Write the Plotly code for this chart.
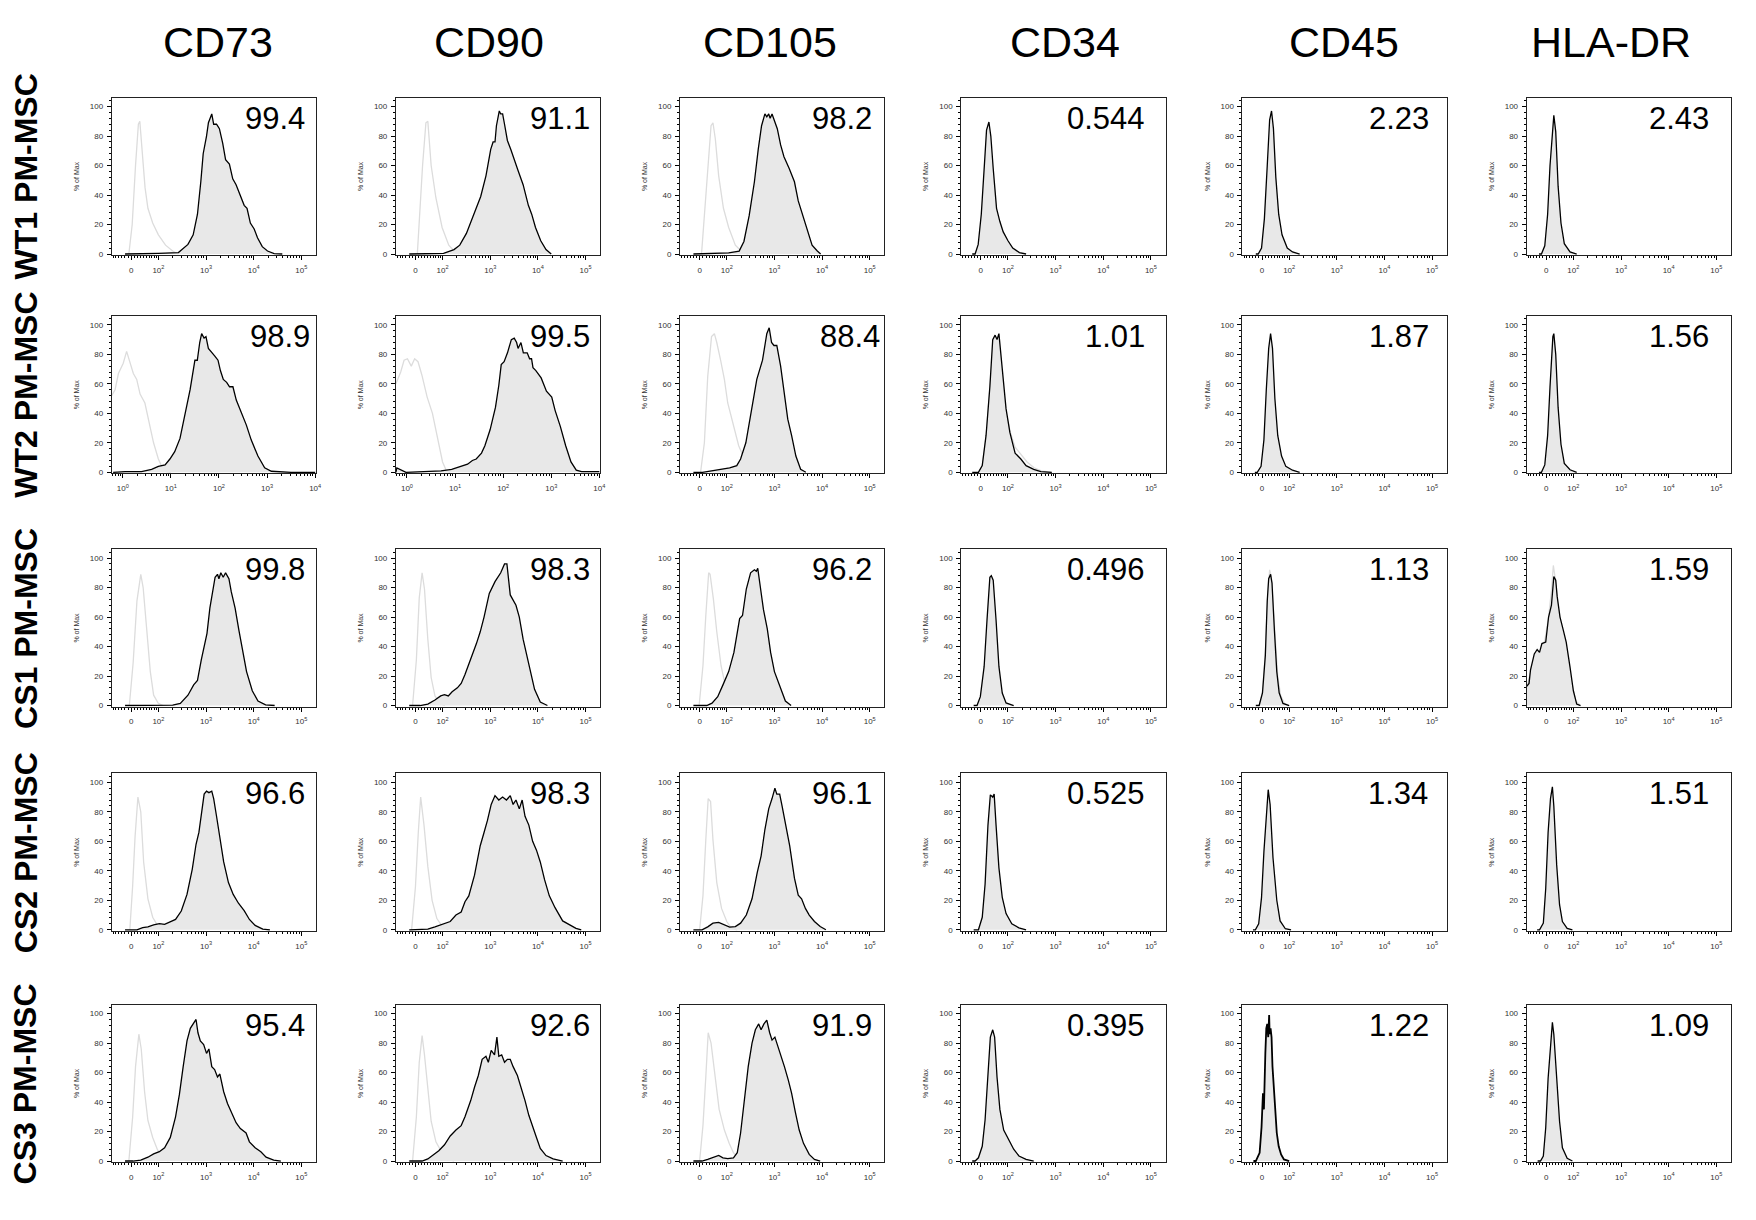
import math
import plotly.graph_objects as go

# ---------------- labels ----------------
columns = ["CD73", "CD90", "CD105", "CD34", "CD45", "HLA-DR"]
rows = ["WT1 PM-MSC", "WT2 PM-MSC", "CS1 PM-MSC", "CS2 PM-MSC", "CS3 PM-MSC"]
percent_labels = [
    ["99.4", "91.1", "98.2", "0.544", "2.23", "2.43"],
    ["98.9", "99.5", "88.4", "1.01", "1.87", "1.56"],
    ["99.8", "98.3", "96.2", "0.496", "1.13", "1.59"],
    ["96.6", "98.3", "96.1", "0.525", "1.34", "1.51"],
    ["95.4", "92.6", "91.9", "0.395", "1.22", "1.09"],
]
logicle_tick_vals = [1.43, 2, 3, 4, 5]
logicle_tick_text = ["0", "10<sup>2</sup>", "10<sup>3</sup>", "10<sup>4</sup>", "10<sup>5</sup>"]
log_tick_vals = [0, 1, 2, 3, 4]
log_tick_text = ["10<sup>0</sup>", "10<sup>1</sup>", "10<sup>2</sup>", "10<sup>3</sup>", "10<sup>4</sup>"]
y_tick_vals = [0, 20, 40, 60, 80, 100]

# ---------------- data (x in decades of the display scale, y in % of max) ----------------
# Row 1 : WT1
wt1_cd73_x = [1.30, 1.90, 2.00, 2.42, 2.62, 2.73, 2.82, 2.89, 2.94, 3.01, 3.05, 3.12, 3.16, 3.22, 3.28, 3.35, 3.41, 3.49, 3.56, 3.63, 3.72, 3.80, 3.86, 3.93, 4.01, 4.08, 4.18, 4.29, 4.43, 4.60]
wt1_cd73_y = [0, 0, 0.5, 1, 6.5, 13, 27, 49, 68, 80, 89, 95, 88, 88, 85, 75, 64, 61, 51, 47, 39, 33, 31, 21, 17, 11, 5, 2, 0.3, 0]
wt1_cd73_iso_x = [1.38, 1.45, 1.52, 1.58, 1.61, 1.65, 1.72, 1.78, 1.88, 2.00, 2.15, 2.30, 2.42]
wt1_cd73_iso_y = [0, 20, 60, 88, 90, 75, 45, 31, 21, 13, 6, 2, 0]
wt1_cd90_x = [1.30, 2.02, 2.24, 2.36, 2.50, 2.69, 2.80, 2.91, 3.01, 3.06, 3.10, 3.13, 3.19, 3.22, 3.26, 3.30, 3.36, 3.43, 3.50, 3.58, 3.69, 3.80, 3.87, 3.95, 4.06, 4.17, 4.28]
wt1_cd90_y = [0, 0.5, 3, 6, 14, 29, 39, 53, 71, 76, 76, 87, 97, 95, 95, 88, 77, 71, 65, 57, 47, 33, 27, 18, 9, 3, 0]
wt1_cd90_iso_x = [1.47, 1.58, 1.65, 1.69, 1.76, 1.86, 1.99, 2.13, 2.24, 2.35]
wt1_cd90_iso_y = [0, 60, 89, 90, 60, 38, 18, 6, 2, 0]
wt1_cd105_x = [1.30, 1.74, 2.04, 2.26, 2.36, 2.47, 2.58, 2.66, 2.73, 2.80, 2.84, 2.88, 2.91, 2.95, 3.00, 3.06, 3.13, 3.20, 3.31, 3.42, 3.50, 3.61, 3.68, 3.79, 3.90, 3.97]
wt1_cd105_y = [0, 0.7, 0.7, 2, 8.5, 26, 49, 71, 87, 95, 93, 95, 92, 95, 91, 85, 74, 66, 58, 49, 36, 25, 18, 6, 2, 0]
wt1_cd105_iso_x = [1.47, 1.60, 1.67, 1.71, 1.76, 1.83, 1.93, 2.04, 2.18, 2.33, 2.45]
wt1_cd105_iso_y = [0, 60, 87, 89, 78, 53, 31, 18, 6, 1, 0]
wt1_cd34_x = [1.25, 1.31, 1.375, 1.44, 1.51, 1.55, 1.60, 1.64, 1.69, 1.76, 1.83, 1.90, 2.00, 2.10, 2.24, 2.38]
wt1_cd34_y = [0, 0, 6.5, 27, 63, 84, 89.5, 80, 58, 31, 22, 15, 9, 4, 1, 0]
wt1_cd45_x = [1.30, 1.35, 1.42, 1.48, 1.54, 1.59, 1.63, 1.67, 1.72, 1.78, 1.85, 1.96, 2.07, 2.22]
wt1_cd45_y = [0, 0, 4, 24, 60, 91, 97, 85, 52, 27, 13, 4, 1.4, 0]
wt1_hla_x = [1.28, 1.33, 1.40, 1.46, 1.51, 1.57, 1.59, 1.63, 1.68, 1.74, 1.81, 1.93, 2.07]
wt1_hla_y = [0, 0, 5.6, 27, 60, 91, 94, 83, 46, 21, 7, 1.4, 0]

# Row 2 : WT2 (CD73 and CD90 on a plain log scale)
wt2_cd73_x = [-0.20, 0.05, 0.39, 0.50, 0.60, 0.74, 0.88, 0.98, 1.08, 1.19, 1.29, 1.40, 1.50, 1.55, 1.60, 1.64, 1.69, 1.73, 1.78, 1.84, 1.91, 1.98, 2.03, 2.09, 2.16, 2.22, 2.29, 2.36, 2.47, 2.57, 2.67, 2.81, 2.95, 3.09, 3.50, 4.00]
wt2_cd73_y = [0, 0.4, 0.4, 1, 2, 4, 5, 9, 14, 23, 38, 56, 76, 76, 88, 94, 91, 92, 84, 82, 79, 76, 69, 63, 61, 58, 58, 49, 40, 32, 22, 11, 3, 0.7, 0, 0]
wt2_cd73_iso_x = [-0.23, -0.16, -0.09, 0.01, 0.08, 0.15, 0.22, 0.29, 0.36, 0.46, 0.53, 0.64, 0.74, 0.81, 0.91, 1.00]
wt2_cd73_iso_y = [52, 56, 67, 74, 82, 74, 67, 63, 53, 47, 36, 20, 9, 4, 0.5, 0]
wt2_cd90_x = [-0.23, -0.21, -0.02, 0.34, 0.71, 0.93, 1.15, 1.26, 1.36, 1.44, 1.55, 1.62, 1.73, 1.84, 1.91, 1.96, 2.02, 2.09, 2.17, 2.23, 2.28, 2.31, 2.37, 2.42, 2.50, 2.55, 2.59, 2.62, 2.68, 2.79, 2.90, 3.01, 3.08, 3.19, 3.30, 3.41, 3.52, 3.63, 3.92, 4.00]
wt2_cd90_y = [0, 3, 0, 0.4, 1, 2, 4, 5.5, 8, 9, 13, 18, 29, 44, 59, 73, 75, 81, 90, 91, 88, 84, 88, 81, 81, 77, 77, 71, 69, 64, 55, 51, 42, 31, 18, 7, 1.5, 0.4, 0.4, 0.4]
wt2_cd90_iso_x = [-0.23, -0.13, -0.06, 0.01, 0.09, 0.16, 0.23, 0.31, 0.42, 0.53, 0.60, 0.67, 0.74, 0.82, 0.90]
wt2_cd90_iso_y = [60, 68, 76, 77, 72, 77, 75, 66, 51, 40, 29, 18, 7, 1, 0]
wt2_cd105_x = [1.30, 1.49, 1.68, 1.91, 2.06, 2.21, 2.29, 2.40, 2.52, 2.63, 2.75, 2.84, 2.89, 2.94, 2.99, 3.05, 3.13, 3.21, 3.28, 3.36, 3.45, 3.55, 3.66]
wt2_cd105_y = [0, 0, 1, 2, 3, 4.5, 9, 20, 43, 63, 76, 94, 98, 88, 86, 86, 72, 54, 36, 25, 11, 2, 0]
wt2_cd105_iso_x = [1.45, 1.53, 1.60, 1.68, 1.74, 1.79, 1.87, 1.95, 2.02, 2.14, 2.25, 2.37, 2.48, 2.60]
wt2_cd105_iso_y = [0, 20, 65, 92, 94, 88, 76, 63, 47, 31, 18, 9, 3, 0.5]
wt2_cd34_x = [1.25, 1.38, 1.46, 1.54, 1.62, 1.68, 1.73, 1.77, 1.81, 1.88, 1.96, 2.04, 2.15, 2.27, 2.38, 2.54, 2.69, 2.92]
wt2_cd34_y = [0, 0, 4.5, 25, 58, 90, 93, 90, 94, 70, 43, 27, 13, 9, 4.5, 2, 0.5, 0]
wt2_cd34_iso_x = [1.38, 1.46, 1.54, 1.62, 1.70, 1.78, 1.86, 1.95, 2.05, 2.15, 2.27, 2.40, 2.55, 2.70, 2.90]
wt2_cd34_iso_y = [0, 4, 24, 56, 90, 86, 62, 42, 27, 17, 12, 7, 3, 1, 0]
wt2_cd45_x = [1.28, 1.33, 1.41, 1.47, 1.52, 1.57, 1.61, 1.65, 1.70, 1.76, 1.84, 1.93, 2.07, 2.22]
wt2_cd45_y = [0, 0, 4, 22, 56, 84, 94, 84, 50, 25, 11, 4, 1.4, 0]
wt2_hla_x = [1.28, 1.33, 1.40, 1.46, 1.51, 1.57, 1.59, 1.63, 1.68, 1.74, 1.81, 1.93, 2.07]
wt2_hla_y = [0, 0, 5, 25, 58, 92, 94, 80, 44, 19, 6, 1.7, 0]

# Row 3 : CS1
cs1_cd73_x = [1.30, 1.98, 2.30, 2.46, 2.62, 2.74, 2.82, 2.90, 3.02, 3.08, 3.13, 3.19, 3.24, 3.27, 3.31, 3.36, 3.41, 3.48, 3.53, 3.61, 3.69, 3.77, 3.85, 3.97, 4.09, 4.25, 4.44]
cs1_cd73_y = [0, 0, 0.3, 1.4, 7, 14, 17, 31, 49, 66, 77, 87, 89, 86, 90, 87, 90, 86, 77, 66, 51, 37, 23, 10, 3, 0.5, 0]
cs1_cd73_iso_x = [1.39, 1.47, 1.55, 1.63, 1.68, 1.75, 1.83, 1.90, 2.00, 2.10]
cs1_cd73_iso_y = [0, 29, 71, 89, 80, 51, 23, 7, 1.4, 0]
cs1_cd90_x = [1.30, 1.53, 1.69, 1.84, 1.96, 2.04, 2.12, 2.20, 2.31, 2.39, 2.47, 2.59, 2.71, 2.79, 2.87, 2.98, 3.10, 3.22, 3.30, 3.35, 3.42, 3.54, 3.61, 3.69, 3.81, 3.93, 4.05, 4.20]
cs1_cd90_y = [0, 0, 1, 3.7, 6.5, 7.4, 6.5, 9.3, 12, 15, 21, 31, 42, 50, 60, 76, 84, 90, 96, 96, 75, 68, 60, 45, 28, 11, 2.3, 0]
cs1_cd90_iso_x = [1.37, 1.45, 1.51, 1.57, 1.62, 1.69, 1.76, 1.84, 1.96, 2.05]
cs1_cd90_iso_y = [0, 31, 73, 90, 79, 45, 19, 6.5, 1, 0]
cs1_cd105_x = [1.30, 1.58, 1.69, 1.81, 1.92, 2.04, 2.15, 2.27, 2.33, 2.41, 2.50, 2.58, 2.62, 2.65, 2.71, 2.77, 2.85, 2.92, 3.00, 3.12, 3.23, 3.35]
cs1_cd105_y = [0, 0, 1.6, 6, 14, 23, 36, 59, 61, 79, 90, 92, 91, 93, 79, 65, 52, 36, 23, 12, 3, 0]
cs1_cd105_iso_x = [1.42, 1.50, 1.56, 1.62, 1.65, 1.72, 1.79, 1.88, 1.98, 2.08, 2.19]
cs1_cd105_iso_y = [0, 27, 61, 90, 89, 72, 50, 27, 12, 4, 0.5]
cs1_cd34_x = [1.28, 1.35, 1.42, 1.50, 1.56, 1.62, 1.65, 1.69, 1.75, 1.81, 1.88, 1.96, 2.12]
cs1_cd34_y = [0, 0, 6, 26.5, 58, 87, 88, 85, 58, 26.5, 8.5, 1.8, 0]
cs1_cd45_x = [1.30, 1.37, 1.44, 1.50, 1.54, 1.57, 1.61, 1.64, 1.69, 1.74, 1.79, 1.87, 2.00]
cs1_cd45_y = [0, 0, 8.6, 34, 71, 86, 89, 83, 51, 23, 8.6, 1.4, 0]
cs1_cd45_iso_x = [1.37, 1.44, 1.50, 1.55, 1.59, 1.62, 1.66, 1.71, 1.76, 1.82, 1.90, 2.00]
cs1_cd45_iso_y = [0, 9, 36, 75, 92, 88, 70, 45, 20, 7, 1.5, 0]
cs1_hla_x = [1.02, 1.07, 1.10, 1.18, 1.24, 1.29, 1.34, 1.42, 1.48, 1.54, 1.59, 1.63, 1.66, 1.72, 1.79, 1.85, 1.93, 2.00, 2.07, 2.15]
cs1_hla_y = [13, 15, 24, 35, 38, 36, 42, 43, 60, 68, 87.5, 85, 74, 60, 51, 43, 26, 10, 1, 0]
cs1_hla_iso_x = [1.02, 1.10, 1.20, 1.30, 1.40, 1.48, 1.54, 1.58, 1.62, 1.68, 1.76, 1.85, 1.95, 2.05, 2.15]
cs1_hla_iso_y = [12, 22, 35, 37, 44, 60, 78, 95, 86, 66, 50, 40, 18, 3, 0]

# Row 4 : CS2
cs2_cd73_x = [1.30, 1.43, 1.55, 1.67, 1.78, 1.90, 2.02, 2.13, 2.25, 2.36, 2.48, 2.60, 2.71, 2.79, 2.85, 2.91, 2.96, 3.01, 3.06, 3.12, 3.16, 3.22, 3.29, 3.37, 3.47, 3.57, 3.68, 3.80, 3.91, 4.03, 4.19, 4.34]
cs2_cd73_y = [0, 0, 0, 1.4, 2, 3.4, 4.2, 3.7, 5.6, 7, 12.7, 24, 41, 58, 66, 80, 92, 94, 93, 94, 89, 77, 61, 46, 32, 24, 18, 13, 7, 3, 0.5, 0]
cs2_cd73_iso_x = [1.40, 1.46, 1.51, 1.57, 1.63, 1.69, 1.78, 1.88, 1.98, 2.09]
cs2_cd73_iso_y = [0, 30, 63, 90, 80, 46, 21, 8.5, 3, 0]
cs2_cd90_x = [1.30, 1.69, 1.84, 2.00, 2.16, 2.28, 2.39, 2.47, 2.55, 2.67, 2.79, 2.87, 2.94, 3.02, 3.10, 3.18, 3.26, 3.34, 3.42, 3.48, 3.54, 3.61, 3.67, 3.73, 3.81, 3.89, 3.97, 4.05, 4.14, 4.24, 4.36, 4.52, 4.68, 4.80, 4.91]
cs2_cd90_y = [0, 0.5, 2, 4, 5.6, 10, 12, 19, 23, 37, 57, 66, 74, 85, 91, 88, 90, 88, 91, 85, 88, 82, 88, 77, 71, 60, 54, 46, 34, 23, 15, 6, 3.4, 1, 0]
cs2_cd90_iso_x = [1.35, 1.43, 1.49, 1.54, 1.61, 1.69, 1.78, 1.88, 2.00, 2.12]
cs2_cd90_iso_y = [0, 29, 66, 90, 71, 43, 20, 7.6, 2, 0]
cs2_cd105_x = [1.30, 1.48, 1.60, 1.71, 1.83, 1.95, 2.06, 2.18, 2.29, 2.41, 2.53, 2.64, 2.72, 2.80, 2.88, 2.95, 3.01, 3.05, 3.11, 3.16, 3.22, 3.32, 3.42, 3.50, 3.57, 3.65, 3.73, 3.84, 3.96, 4.08]
cs2_cd105_y = [0, 0, 2, 4.5, 5, 3.4, 1.8, 2.2, 4.5, 10, 21, 39, 50, 68, 82, 89, 96, 92, 92, 84, 73, 57, 35, 23.5, 21, 14.5, 10, 5.6, 2.2, 0]
cs2_cd105_iso_x = [1.43, 1.50, 1.56, 1.61, 1.66, 1.71, 1.79, 1.89, 2.00, 2.10, 2.22]
cs2_cd105_iso_y = [0, 23, 61, 89, 87, 61, 32, 14.5, 5.6, 1, 0]
cs2_cd34_x = [1.28, 1.38, 1.46, 1.52, 1.58, 1.63, 1.68, 1.71, 1.75, 1.81, 1.88, 1.96, 2.08, 2.23, 2.38]
cs2_cd34_y = [0, 0, 8.5, 31, 71, 91.5, 90, 92, 71, 42, 22, 11, 4, 1.3, 0]
cs2_cd45_x = [1.24, 1.29, 1.36, 1.42, 1.47, 1.53, 1.56, 1.60, 1.66, 1.74, 1.81, 1.92, 2.04]
cs2_cd45_y = [0, 0, 4, 22, 53, 85, 95, 85, 49, 20, 6, 0.7, 0]
cs2_hla_x = [1.24, 1.29, 1.37, 1.42, 1.47, 1.52, 1.56, 1.59, 1.65, 1.71, 1.77, 1.87, 1.98]
cs2_hla_y = [0, 0, 4.5, 28, 66, 89, 97, 84, 44, 17, 5.6, 1, 0]

# Row 5 : CS3
cs3_cd73_x = [1.30, 1.47, 1.63, 1.78, 1.90, 2.02, 2.13, 2.25, 2.36, 2.44, 2.52, 2.60, 2.67, 2.73, 2.79, 2.83, 2.88, 2.95, 3.01, 3.06, 3.12, 3.18, 3.24, 3.29, 3.37, 3.45, 3.53, 3.63, 3.72, 3.84, 3.91, 4.03, 4.15, 4.26, 4.42, 4.57]
cs3_cd73_y = [0, 0, 0.6, 2.6, 4.8, 6.3, 9, 16, 30, 45, 64, 81.5, 90, 93, 96, 87, 81.5, 79, 73, 76, 64, 62, 57, 59, 47, 39, 33, 26, 22, 19, 13, 9, 6.3, 2.6, 0.6, 0]
cs3_cd73_iso_x = [1.38, 1.46, 1.52, 1.59, 1.64, 1.71, 1.78, 1.88, 1.98, 2.09, 2.21]
cs3_cd73_iso_y = [0, 30, 64, 86, 76, 47, 27.5, 16, 7.7, 2.6, 0]
cs3_cd90_x = [1.30, 1.57, 1.69, 1.80, 1.92, 2.04, 2.16, 2.28, 2.39, 2.47, 2.59, 2.67, 2.75, 2.83, 2.91, 2.96, 3.02, 3.09, 3.14, 3.18, 3.24, 3.30, 3.36, 3.42, 3.48, 3.57, 3.65, 3.73, 3.81, 3.89, 3.97, 4.05, 4.17, 4.32, 4.52]
cs3_cd90_y = [0, 0, 1.4, 4, 7, 11, 17, 21, 24, 30, 41, 50, 58, 69, 71, 67, 75, 72, 84, 71, 72, 67, 69, 69, 64, 58, 50, 41, 31, 24, 16, 8.5, 3.7, 1.4, 0]
cs3_cd90_iso_x = [1.37, 1.45, 1.51, 1.57, 1.62, 1.69, 1.76, 1.86, 1.98, 2.12, 2.24]
cs3_cd90_iso_y = [0, 30, 67, 85, 72, 47, 27, 13, 6, 1.4, 0]
cs3_cd105_x = [1.30, 1.48, 1.60, 1.69, 1.77, 1.83, 1.92, 2.02, 2.14, 2.22, 2.29, 2.37, 2.45, 2.53, 2.60, 2.67, 2.72, 2.78, 2.84, 2.90, 2.95, 3.01, 3.07, 3.13, 3.21, 3.29, 3.36, 3.44, 3.52, 3.61, 3.73, 3.84, 3.96]
cs3_cd105_y = [0, 0, 1.1, 2.2, 3.4, 3.8, 2.2, 1.6, 2.2, 5.6, 19, 42, 64, 80, 89, 93, 89, 93, 95.5, 87, 82, 84, 78, 73, 64, 55, 46, 33, 21, 12, 4.5, 1.1, 0]
cs3_cd105_iso_x = [1.43, 1.50, 1.56, 1.61, 1.67, 1.75, 1.84, 1.95, 2.05, 2.14, 2.26, 2.37]
cs3_cd105_iso_y = [0, 24, 57, 87, 80, 57, 35, 21, 12, 5.6, 1, 0]
cs3_cd34_x = [1.25, 1.31, 1.38, 1.46, 1.52, 1.58, 1.63, 1.68, 1.72, 1.77, 1.83, 1.91, 2.00, 2.12, 2.23, 2.38, 2.54]
cs3_cd34_y = [0, 0, 2.2, 10, 28, 57, 84, 89, 84, 57, 35, 21, 15, 8, 3.4, 1.1, 0]
cs3_cd45_x = [1.25, 1.30, 1.38, 1.42, 1.45, 1.47, 1.50, 1.52, 1.54, 1.56, 1.58, 1.59, 1.61, 1.63, 1.65, 1.68, 1.70, 1.74, 1.78, 1.83, 1.89, 2.00]
cs3_cd45_y = [0, 0, 5.6, 23, 46, 35, 73, 90, 93, 84, 99, 86, 90, 84, 64, 48, 35, 19, 10, 4.5, 1.1, 0]
cs3_hla_x = [1.25, 1.31, 1.37, 1.42, 1.47, 1.52, 1.56, 1.59, 1.65, 1.71, 1.77, 1.87, 1.98]
cs3_hla_y = [0, 0, 3.4, 22.6, 56, 81, 94, 86, 56, 27, 9, 1.8, 0]

panels = [
    [(wt1_cd73_x, wt1_cd73_y, wt1_cd73_iso_x, wt1_cd73_iso_y),
     (wt1_cd90_x, wt1_cd90_y, wt1_cd90_iso_x, wt1_cd90_iso_y),
     (wt1_cd105_x, wt1_cd105_y, wt1_cd105_iso_x, wt1_cd105_iso_y),
     (wt1_cd34_x, wt1_cd34_y, None, None),
     (wt1_cd45_x, wt1_cd45_y, None, None),
     (wt1_hla_x, wt1_hla_y, None, None)],
    [(wt2_cd73_x, wt2_cd73_y, wt2_cd73_iso_x, wt2_cd73_iso_y),
     (wt2_cd90_x, wt2_cd90_y, wt2_cd90_iso_x, wt2_cd90_iso_y),
     (wt2_cd105_x, wt2_cd105_y, wt2_cd105_iso_x, wt2_cd105_iso_y),
     (wt2_cd34_x, wt2_cd34_y, wt2_cd34_iso_x, wt2_cd34_iso_y),
     (wt2_cd45_x, wt2_cd45_y, None, None),
     (wt2_hla_x, wt2_hla_y, None, None)],
    [(cs1_cd73_x, cs1_cd73_y, cs1_cd73_iso_x, cs1_cd73_iso_y),
     (cs1_cd90_x, cs1_cd90_y, cs1_cd90_iso_x, cs1_cd90_iso_y),
     (cs1_cd105_x, cs1_cd105_y, cs1_cd105_iso_x, cs1_cd105_iso_y),
     (cs1_cd34_x, cs1_cd34_y, None, None),
     (cs1_cd45_x, cs1_cd45_y, cs1_cd45_iso_x, cs1_cd45_iso_y),
     (cs1_hla_x, cs1_hla_y, cs1_hla_iso_x, cs1_hla_iso_y)],
    [(cs2_cd73_x, cs2_cd73_y, cs2_cd73_iso_x, cs2_cd73_iso_y),
     (cs2_cd90_x, cs2_cd90_y, cs2_cd90_iso_x, cs2_cd90_iso_y),
     (cs2_cd105_x, cs2_cd105_y, cs2_cd105_iso_x, cs2_cd105_iso_y),
     (cs2_cd34_x, cs2_cd34_y, None, None),
     (cs2_cd45_x, cs2_cd45_y, None, None),
     (cs2_hla_x, cs2_hla_y, None, None)],
    [(cs3_cd73_x, cs3_cd73_y, cs3_cd73_iso_x, cs3_cd73_iso_y),
     (cs3_cd90_x, cs3_cd90_y, cs3_cd90_iso_x, cs3_cd90_iso_y),
     (cs3_cd105_x, cs3_cd105_y, cs3_cd105_iso_x, cs3_cd105_iso_y),
     (cs3_cd34_x, cs3_cd34_y, None, None),
     (cs3_cd45_x, cs3_cd45_y, None, None),
     (cs3_hla_x, cs3_hla_y, None, None)],
]
log_scale_panels = {(1, 0), (1, 1)}

# ---------------- layout geometry (pixels) ----------------
W, H = 1756, 1220
col_left = [104, 389, 674, 956, 1238, 1523]
row_top = [90, 309, 543, 768, 1000]
PW, PH = 205, 158
num_inset = [
    [9, 8, 11, 19, 16, 20],
    [4, 8, 3, 19, 16, 20],
    [9, 8, 11, 19, 16, 20],
    [9, 8, 11, 19, 17, 20],
    [9, 8, 11, 19, 16, 20],
]
header_x = [211, 482, 764, 1060, 1340, 1608]
FONT = "Liberation Sans, Arial, Helvetica, sans-serif"

logicle_minor = [k + math.log10(m) for k in (2, 3, 4) for m in range(2, 10)]
logicle_minor += [1.43 + 0.57 * math.asinh(v / 80) / math.asinh(1.25)
                  for v in (-60, -50, -40, -30, -20, -10, 10, 20, 30, 40, 50, 60, 70, 80, 90)]
log_minor = [k + math.log10(m) for k in (-1, 0, 1, 2, 3) for m in range(2, 10)
             if -0.23 <= k + math.log10(m) <= 4.02]

fig = go.Figure()
layout = dict(width=W, height=H, margin=dict(l=0, r=0, t=0, b=0),
              paper_bgcolor="white", plot_bgcolor="white", showlegend=False,
              font=dict(family=FONT, color="black"))
annotations = []

for r in range(5):
    for c in range(6):
        i = r * 6 + c + 1
        xa = "x" if i == 1 else f"x{i}"
        ya = "y" if i == 1 else f"y{i}"
        sx, sy, ix, iy = panels[r][c]
        if ix is not None:
            fig.add_trace(go.Scatter(x=ix, y=iy, mode="lines", xaxis=xa, yaxis=ya,
                                     line=dict(color="#dcdcdc", width=1.3), hoverinfo="skip"))
        lw = 1.8 if (r, c) == (4, 4) else 1.3
        fig.add_trace(go.Scatter(x=sx, y=sy, mode="lines", xaxis=xa, yaxis=ya,
                                 fill="tozeroy", fillcolor="#e8e8e8",
                                 line=dict(color="black", width=lw), hoverinfo="skip"))
        left, top = col_left[c], row_top[r]
        xdom = [left / W, (left + PW) / W]
        ydom = [1 - (top + PH) / H, 1 - top / H]
        if (r, c) in log_scale_panels:
            xr, tv, tt, mv = [-0.23, 4.02], log_tick_vals, log_tick_text, log_minor
        else:
            xr, tv, tt, mv = [1.02, 5.31], logicle_tick_vals, logicle_tick_text, logicle_minor
        layout["xaxis" if i == 1 else f"xaxis{i}"] = dict(
            domain=xdom, anchor=ya, range=xr, tickmode="array", tickvals=tv, ticktext=tt,
            ticks="outside", ticklen=4, tickwidth=1, tickcolor="black",
            minor=dict(tickmode="array", tickvals=mv, ticks="outside", ticklen=2,
                       tickwidth=0.8, tickcolor="black"),
            showline=True, linecolor="#222", linewidth=1, mirror=True,
            showgrid=False, zeroline=False, ticklabelstandoff=3,
            tickfont=dict(size=8, color="#333", family=FONT), fixedrange=True)
        layout["yaxis" if i == 1 else f"yaxis{i}"] = dict(
            domain=ydom, anchor=xa, range=[-0.8, 106], tickmode="array", tickvals=y_tick_vals,
            ticks="outside", ticklen=4, tickwidth=1, tickcolor="black",
            minor=dict(dtick=4, tick0=0, ticks="outside", ticklen=2, tickwidth=0.8,
                       tickcolor="black"),
            showline=True, linecolor="#222", linewidth=1, mirror=True,
            showgrid=False, zeroline=False, ticklabelstandoff=2,
            tickfont=dict(size=8, color="#333", family=FONT),
            title=dict(text="% of Max", font=dict(size=7, color="#333", family=FONT), standoff=9),
            fixedrange=True)
        annotations.append(dict(
            text=percent_labels[r][c], xref="paper", yref="paper",
            x=(left + PW - num_inset[r][c]) / W, y=1 - (top + 1) / H,
            xanchor="right", yanchor="top", showarrow=False,
            font=dict(size=31, color="black", family=FONT)))

for c, name in enumerate(columns):
    annotations.append(dict(text=name, xref="paper", yref="paper",
                            x=header_x[c] / W, y=1 - 34 / H,
                            xanchor="center", yanchor="middle", showarrow=False,
                            font=dict(size=43, color="black", family=FONT)))
for r, name in enumerate(rows):
    annotations.append(dict(text=f"<b>{name}</b>", xref="paper", yref="paper",
                            x=18 / W, y=1 - (row_top[r] + PH / 2) / H,
                            xanchor="center", yanchor="middle", textangle=-90, showarrow=False,
                            font=dict(size=32, color="black", family=FONT)))

layout["annotations"] = annotations
fig.update_layout(**layout)
fig.write_html("out.html")
